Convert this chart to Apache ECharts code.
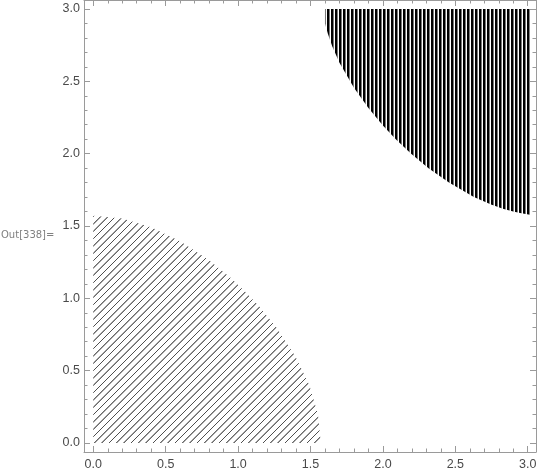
<!DOCTYPE html>
<html><head><meta charset="utf-8">
<script src="https://cdn.jsdelivr.net/npm/echarts@6/dist/echarts.min.js"></script>
<style>html,body{margin:0;padding:0;background:#fff}#c{width:540px;height:476px}</style>
</head><body><div id="c"></div>
<script>
// ---- data ----
const majorTicks = [0, 0.5, 1, 1.5, 2, 2.5, 3];
const minorTicks = [0.1,0.2,0.3,0.4,0.6,0.7,0.8,0.9,1.1,1.2,1.3,1.4,1.6,1.7,1.8,1.9,2.1,2.2,2.3,2.4,2.6,2.7,2.8,2.9];
// boundary of the hatched lower-left region
const lowerRegion = [[0,0],[0,1.571],[0.2,1.551],[0.4,1.492],[0.6,1.395],[0.8,1.263],[0.95,1.14],[1.047,1.047],[1.14,0.95],[1.263,0.8],[1.395,0.6],[1.492,0.4],[1.551,0.2],[1.571,0]];
// boundary of the striped upper-right region
const upperRegion = [[1.60,3.0],[1.60,2.90],[1.62,2.828],[1.65,2.743],[1.7,2.628],[1.8,2.456],[1.9,2.315],[2.0,2.195],[2.094,2.094],[2.195,2.0],[2.315,1.9],[2.456,1.8],[2.628,1.7],[2.743,1.65],[2.828,1.62],[2.9,1.6],[2.947,1.59],[3.015,1.578],[3.015,3.0]];
const XMIN = -0.064, XMAX = 3.057, YMIN = -0.062, YMAX = 3.062;

// ---- fill patterns ----
function makeHatch() {
  const c = document.createElement('canvas'); c.width = 22; c.height = 22;
  const g = c.getContext('2d');
  g.strokeStyle = '#4d4d4d'; g.lineWidth = 0.9;
  const p = 22 / 3;
  for (let k = -4; k <= 8; k++) {
    const s = 2 + k * p;
    g.beginPath(); g.moveTo(s + 22, -22); g.lineTo(s - 22, 22); g.stroke();
    g.beginPath(); g.moveTo(s + 44, -22); g.lineTo(s, 22); g.stroke();
  }
  return c;
}
function makeStripes() {
  const c = document.createElement('canvas'); c.width = 4; c.height = 4;
  const g = c.getContext('2d');
  g.fillStyle = '#ffffff'; g.fillRect(0, 0, 4, 4);
  g.fillStyle = '#000000'; g.fillRect(3, 0, 1, 4); g.fillRect(0, 0, 1, 4);
  g.fillStyle = '#7a7a7a'; g.fillRect(1, 0, 1, 4);
  return c;
}
const hatch = { image: makeHatch(), repeat: 'repeat' };
const stripes = { image: makeStripes(), repeat: 'repeat' };

const axisColor = '#9a9a9a';
const labelStyle = { color: '#4a4a4a', fontSize: 12.5, fontFamily: 'Liberation Sans, Arial, sans-serif' };

function mkAxis(isX, pos, ticks, len, showLine, showLabel) {
  return {
    type: 'value', position: pos,
    min: isX ? XMIN : YMIN, max: isX ? XMAX : YMAX,
    axisLine: { show: showLine, onZero: false, lineStyle: { color: axisColor, width: 1 } },
    axisTick: { show: true, inside: true, length: len, customValues: ticks, lineStyle: { color: axisColor, width: 1 } },
    axisLabel: Object.assign({ show: showLabel, customValues: ticks, margin: isX ? 6 : 4,
      formatter: v => Number(v).toFixed(1) }, labelStyle),
    splitLine: { show: false }
  };
}

function regionSeries(points, fill) {
  return {
    type: 'custom', xAxisIndex: 0, yAxisIndex: 0, silent: true,
    data: [0],
    renderItem: (params, api) => ({
      type: 'polygon',
      shape: { points: points.map(p => api.coord(p)) },
      style: { fill: fill, stroke: null }
    })
  };
}

const chart = echarts.init(document.getElementById('c'), null, { renderer: 'canvas' });
chart.setOption({
  animation: false,
  backgroundColor: '#ffffff',
  grid: { left: 84, right: 4, top: -1, bottom: 24, containLabel: false },
  xAxis: [
    mkAxis(true, 'bottom', majorTicks, 6, true, true),
    mkAxis(true, 'bottom', minorTicks, 3.5, false, false),
    mkAxis(true, 'top', majorTicks, 6, true, false),
    mkAxis(true, 'top', minorTicks, 3.5, false, false)
  ],
  yAxis: [
    mkAxis(false, 'left', majorTicks, 6, true, true),
    mkAxis(false, 'left', minorTicks, 3.5, false, false),
    mkAxis(false, 'right', majorTicks, 6, true, false),
    mkAxis(false, 'right', minorTicks, 3.5, false, false)
  ],
  graphic: [{
    type: 'text', left: 1, top: 230,
    style: { text: 'Out[338]=', fill: '#808080', font: '10px "DejaVu Sans"' }
  }],
  series: [
    regionSeries(lowerRegion, hatch),
    regionSeries(upperRegion, stripes)
  ]
});
</script>
</body></html>
